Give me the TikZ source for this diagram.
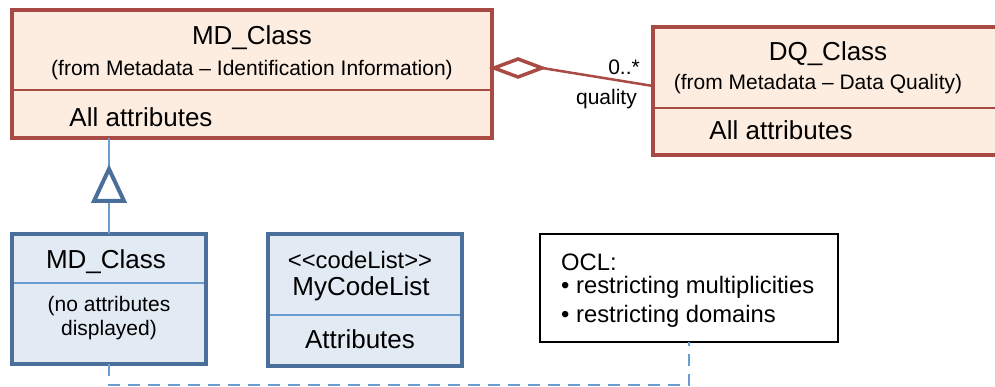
\documentclass[tikz,border=0pt]{standalone}
\usepackage{fontspec}
\setmainfont{Liberation Sans}
\usetikzlibrary{calc}
\definecolor{rborder}{RGB}{169,74,69}
\definecolor{rfill}{RGB}{253,236,224}
\definecolor{bborder}{RGB}{74,111,154}
\definecolor{bfill}{RGB}{226,234,243}
\definecolor{bline}{RGB}{106,155,209}
\begin{document}
\begin{tikzpicture}[x=1pt,y=-1pt,
  redbox/.style={draw=rborder, fill=rfill, line width=4pt, rectangle, anchor=north west, inner sep=0pt, outer sep=0pt},
  bluebox/.style={draw=bborder, fill=bfill, line width=4pt, rectangle, anchor=north west, inner sep=0pt, outer sep=0pt},
  notebox/.style={draw=black, fill=white, line width=1.6pt, rectangle, anchor=north west, inner sep=0pt, outer sep=0pt},
  rdiv/.style={draw=rborder, line width=2pt},
  bdiv/.style={draw=bline, line width=2pt},
  big/.style={font=\fontsize{26}{28}\selectfont, inner sep=0pt},
  small/.style={font=\fontsize{21}{23}\selectfont, inner sep=0pt},
  mid/.style={font=\fontsize{23.8}{26}\selectfont, inner sep=0pt},
]
\useasboundingbox (0,0) rectangle (995,387);
\clip (0,0) rectangle (995,387);
\fill[white] (0,0) rectangle (995,387);

% boxes
\node[redbox, minimum width=480pt, minimum height=128pt] (mdr) at (12,10) {};
\node[redbox, minimum width=350pt, minimum height=128pt] (dq) at (653,27) {};
\node[bluebox, minimum width=194pt, minimum height=130pt] (mdb) at (12,234) {};
\node[bluebox, minimum width=194pt, minimum height=132pt] (cl) at (268,234) {};
\node[notebox, minimum width=298pt, minimum height=108pt] (ocl) at (540,234) {};

% dividers
\draw[rdiv] (mdr.west |- 0,90) -- (mdr.east |- 0,90);
\draw[rdiv] (dq.west |- 0,108) -- (dq.east |- 0,108);
\draw[bdiv] (mdb.west |- 0,283) -- (mdb.east |- 0,283);
\draw[bdiv] (cl.west |- 0,315) -- (cl.east |- 0,315);
\draw[line width=4pt, rborder] (mdr.north west) rectangle (mdr.south east);
\draw[line width=4pt, rborder] (dq.north west) rectangle (dq.south east);
\draw[line width=4pt, bborder] (mdb.north west) rectangle (mdb.south east);
\draw[line width=4pt, bborder] (cl.north west) rectangle (cl.south east);

% texts
\node[big] (t1) at (252,38) {MD\_Class};
\node[small] (t2) at (252,70) {(from Metadata – Identification Information)};
\node[big] (t3) at (141,117) {All attributes};
\node[big] (t4) at (828,54) {DQ\_Class};
\node[small] (t5) at (818,84) {(from Metadata – Data Quality)};
\node[big] (t6) at (781,130) {All attributes};
\node[big] (t7) at (106,262) {MD\_Class};
\node[small, align=center] (t8) at (109,318) {(no attributes\\[1pt]displayed)};
\node[mid] (t9) at (360,260) {<{}<codeList>{}>};
\node[big] (t10) at (361,289) {MyCodeList};
\node[big] (t11) at (360,339) {Attributes};
\node[mid, anchor=west] (t12) at (561,262) {OCL:};
\node[mid, anchor=west] (t13) at (561,287) {• restricting multiplicities};
\node[mid, anchor=west] (t14) at (561,316) {• restricting domains};
\node[small, anchor=east] (m1) at (640,67) {0..*};
\node[small, anchor=east] (m2) at (637,99) {quality};

% aggregation
\coordinate (dl) at ($(mdr.east |- 0,68)+(2,0)$);
\coordinate (dr) at ($(dl)+(48,0)$);
\draw[rborder, line width=2.5pt] (dr) -- (dq.west |- 0,86);
\draw[rborder, line width=3.5pt, fill=white, line join=miter] (dl) -- ++(24,-9) -- (dr) -- ++(-24,9) -- cycle;

% generalization
\draw[bline, line width=2.5pt] (mdb.north) -- (mdb.north |- mdr.south);
\coordinate (gt) at (mdb.north |- 0,169);
\draw[bborder, line width=4pt, fill=white, line join=miter] (gt) -- ++(15,32) -- ++(-30,0) -- cycle;

% dependency to note
\coordinate (db) at (mdb.south |- 0,385);
\draw[bline, line width=2.5pt, dash pattern=on 12pt off 8pt] (mdb.south) -- (db) -| (ocl.south);
\end{tikzpicture}
\end{document}
